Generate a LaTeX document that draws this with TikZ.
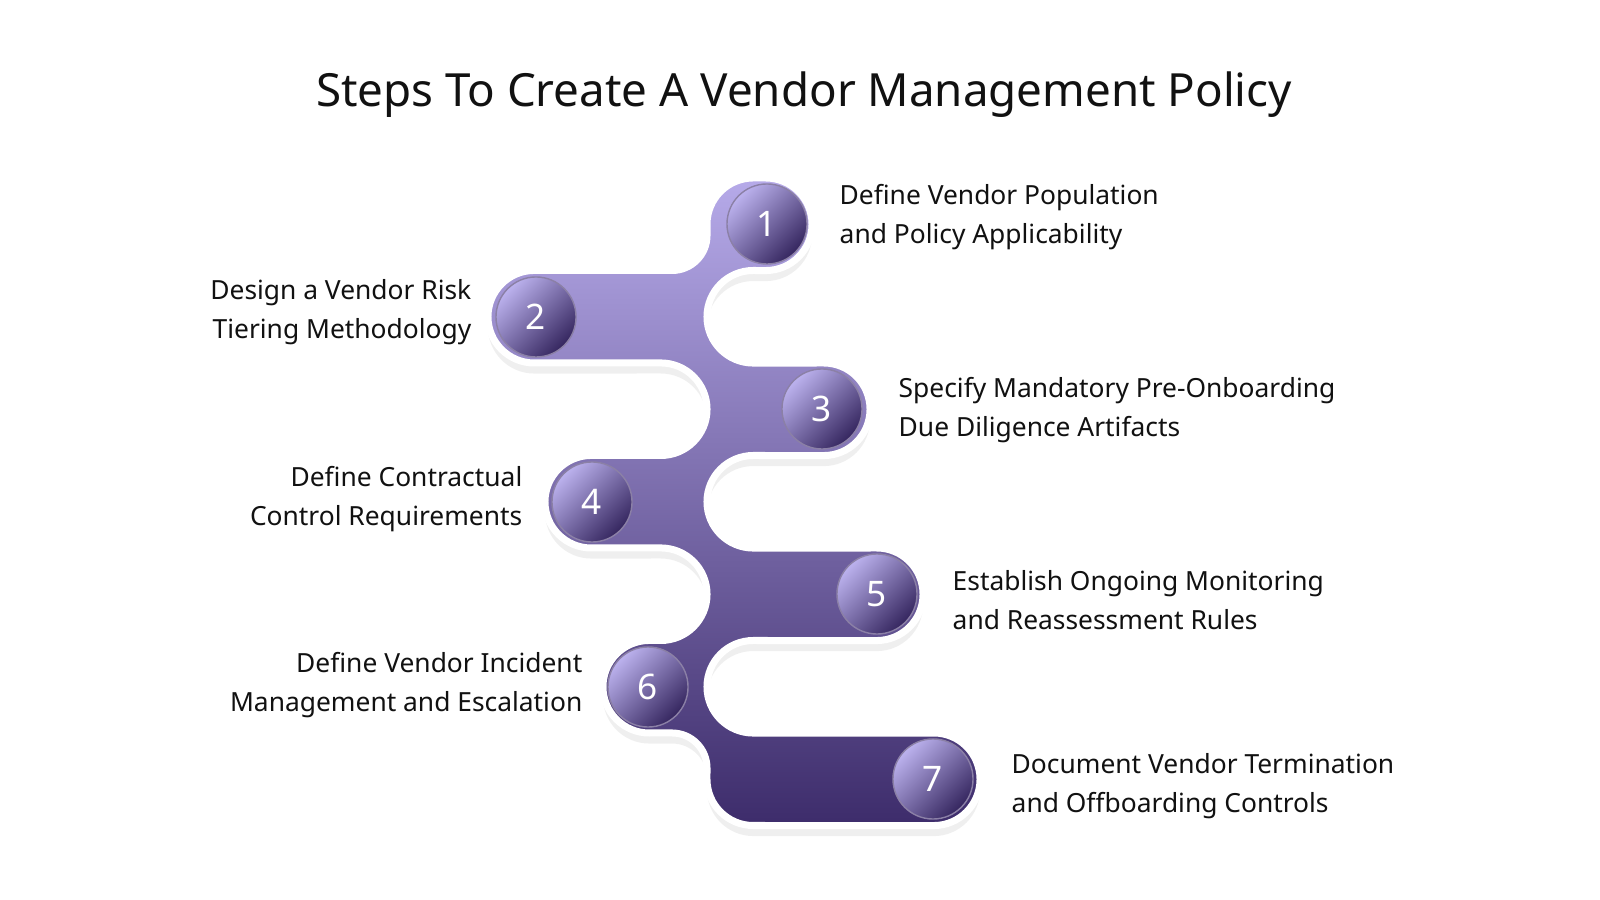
\documentclass[tikz,border=0pt]{standalone}
\usepackage{fontspec}
\setmainfont{Noto Sans}
\usetikzlibrary{shadows}
\definecolor{toppurple}{HTML}{B6AAE9}
\definecolor{botpurple}{HTML}{3D2C6B}
\definecolor{circlight}{HTML}{BCB2EE}
\definecolor{circdark}{HTML}{35265F}
\definecolor{txt}{HTML}{111111}
\begin{document}
\begin{tikzpicture}[x=0.01cm,y=0.01cm,
  numcirc/.style={circle,minimum size=0.8cm,inner sep=0pt,shading=axis,top color=circlight,bottom color=circdark,shading angle=45,draw=botpurple!60,line width=0.4pt,text=white,font=\fontsize{10}{10}\selectfont\bfseries},
  label/.style={inner sep=0pt,text=txt,font=\fontsize{7.5}{11.1}\selectfont}]
\useasboundingbox[fill=white] (0,0) rectangle (1600,900);
\def\R{0.4625cm}
\def\f{0.35cm}
\shade[top color=toppurple,bottom color=botpurple,draw=white,line width=0.07cm,
  drop shadow={opacity=0.12,shadow xshift=0pt,shadow yshift=-3pt}]
  (753.25,722) -- (765.75,722) arc[start angle=90,end angle=-90,radius=\R]
  -- (753.25,629.5) arc[start angle=90,end angle=270,radius=\R]
  -- (823.75,537) arc[start angle=90,end angle=-90,radius=\R]
  -- (753.25,444.5) arc[start angle=90,end angle=270,radius=\R]
  -- (876.75,352) arc[start angle=90,end angle=-90,radius=\R]
  -- (753.25,259.5) arc[start angle=90,end angle=270,radius=\R]
  -- (933.75,167) arc[start angle=90,end angle=-90,radius=\R]
  -- (753.25,74.5) arc[start angle=270,end angle=180,radius=\R]
  -- (707,132) arc[start angle=0,end angle=90,radius=\f]
  -- (649.25,167) arc[start angle=270,end angle=90,radius=\R]
  -- (660.75,259.5) arc[start angle=-90,end angle=90,radius=\R]
  -- (591.25,352) arc[start angle=270,end angle=90,radius=\R]
  -- (660.75,444.5) arc[start angle=-90,end angle=90,radius=\R]
  -- (534.25,537) arc[start angle=270,end angle=90,radius=\R]
  -- (672,629.5) arc[start angle=-90,end angle=0,radius=\f]
  -- (707,675.75) arc[start angle=180,end angle=90,radius=\R] -- cycle;
\node[numcirc] (c1) at (767,676) {1};
\node[numcirc] (c2) at (536,583) {2};
\node[numcirc] (c3) at (822,491) {3};
\node[numcirc] (c4) at (592,398) {4};
\node[numcirc] (c5) at (877,306) {5};
\node[numcirc] (c6) at (648,213) {6};
\node[numcirc] (c7) at (933,121) {7};
\node[inner sep=0pt,text=txt,font=\fontsize{13}{13}\selectfont\bfseries] (title) at (804,805) {Steps To Create A Vendor Management Policy};
\node[label,anchor=west,align=left] (t1) at (839,683) {Define Vendor Population\\and Policy Applicability};
\node[label,anchor=east,align=right] (t2) at (472,588) {Design a Vendor Risk\\Tiering Methodology};
\node[label,anchor=west,align=left] (t3) at (898,490) {Specify Mandatory Pre-Onboarding\\Due Diligence Artifacts};
\node[label,anchor=east,align=right] (t4) at (523,401) {Define Contractual\\Control Requirements};
\node[label,anchor=west,align=left] (t5) at (952,300) {Establish Ongoing Monitoring\\and Reassessment Rules};
\node[label,anchor=east,align=right] (t6) at (583,215) {Define Vendor Incident\\Management and Escalation};
\node[label,anchor=west,align=left] (t7) at (1011,114) {Document Vendor Termination\\and Offboarding Controls};
\end{tikzpicture}
\end{document}
